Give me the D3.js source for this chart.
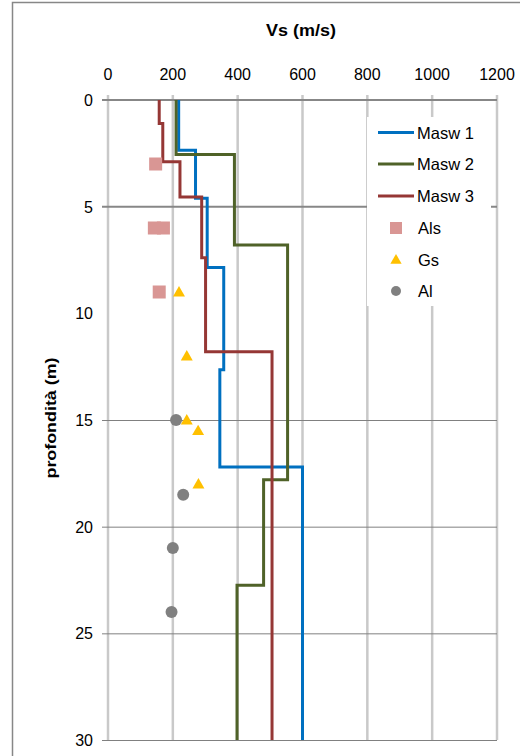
<!DOCTYPE html>
<html>
<head>
<meta charset="utf-8">
<script src="https://cdn.jsdelivr.net/npm/d3@7"></script>
<style>
  body { margin: 0; background: #fff; }
  text { font-family: "Liberation Sans", Arial, sans-serif; fill: #000; }
</style>
</head>
<body>
<script>
// layer tops (m) and Vs (m/s) for each survey
let masw1Depths = [0, 2.35, 4.6, 7.85, 12.65, 17.2, 30],
    masw1Vs = [218, 270, 306, 357, 345, 600];
let masw2Depths = [0, 2.55, 6.8, 17.8, 22.75, 30],
    masw2Vs = [210, 390, 554, 480, 398];
let masw3Depths = [0, 1.1, 2.9, 4.55, 7.4, 11.8, 30],
    masw3Vs = [158, 169, 222, 289, 301, 506];

// point measurements [Vs, depth]
let alsPoints = [[147, 3], [143, 6], [171, 6], [158, 9]];
let gsPoints = [[219, 9], [243, 12], [243, 15], [278, 15.5], [279, 18]];
let alPoints = [[210, 15], [232, 18.5], [200, 21], [196, 24]];

let xTicks = [0, 200, 400, 600, 800, 1000, 1200];
let yTicks = [0, 5, 10, 15, 20, 25, 30];
let yGridLines = [15, 20, 25, 30];
let yGridStrong = [0, 5];

let width = 520, height = 756;

let svg = d3.select('body').append('svg')
    .attr('width', width)
    .attr('height', height);

let x = d3.scaleLinear().domain([0, 1200]).range([108, 497]);
let y = d3.scaleLinear().domain([0, 30]).range([100, 740]);

// chart border
svg.append('path')
    .attr('d', 'M12.5,' + height + 'V2.5H' + width)
    .attr('fill', 'none')
    .attr('stroke', '#878787')
    .attr('stroke-width', 1.5);

// vertical grid
svg.selectAll('line.vgrid').data(xTicks).enter().append('line')
    .attr('class', 'vgrid')
    .attr('x1', d => x(d)).attr('x2', d => x(d))
    .attr('y1', 95).attr('y2', y(30))
    .attr('stroke', '#c9c9c9')
    .attr('stroke-width', 2.5);

// horizontal grid
svg.selectAll('line.hgrid').data(yGridLines).enter().append('line')
    .attr('class', 'hgrid')
    .attr('x1', 102).attr('x2', x(1200))
    .attr('y1', d => y(d) + 0.5).attr('y2', d => y(d) + 0.5)
    .attr('stroke', '#808080')
    .attr('stroke-width', 1);
svg.selectAll('line.hgrid2').data(yGridStrong).enter().append('line')
    .attr('class', 'hgrid2')
    .attr('x1', 102).attr('x2', x(1200))
    .attr('y1', d => y(d)).attr('y2', d => y(d))
    .attr('stroke', '#878787')
    .attr('stroke-width', 2);

// top axis labels
svg.selectAll('text.xtick').data(xTicks).enter().append('text')
    .attr('class', 'xtick')
    .attr('x', d => x(d))
    .attr('y', 80)
    .attr('text-anchor', 'middle')
    .style('font-size', '16px')
    .text(d => d);

// left axis labels
svg.selectAll('text.ytick').data(yTicks).enter().append('text')
    .attr('class', 'ytick')
    .attr('x', 93)
    .attr('y', d => y(d) + 6)
    .attr('text-anchor', 'end')
    .style('font-size', '16px')
    .text(d => d);

// axis titles
svg.append('text')
    .attr('x', 301)
    .attr('y', 36)
    .attr('text-anchor', 'middle')
    .style('font-size', '17px')
    .style('font-weight', 'bold')
    .attr('textLength', 70)
    .attr('lengthAdjust', 'spacingAndGlyphs')
    .text('Vs (m/s)');

svg.append('text')
    .attr('transform', 'translate(56,418) rotate(-90)')
    .attr('text-anchor', 'middle')
    .style('font-size', '15px')
    .style('font-weight', 'bold')
    .attr('textLength', 121)
    .attr('lengthAdjust', 'spacingAndGlyphs')
    .text('profondità (m)');

// step profiles
function stepPoints(depths, vs) {
    let pts = [];
    vs.forEach((v, i) => {
        pts.push([v, depths[i]]);
        pts.push([v, depths[i + 1]]);
    });
    return pts;
}

let series = [
    {name: 'Masw 1', color: '#0070c0', pts: stepPoints(masw1Depths, masw1Vs)},
    {name: 'Masw 2', color: '#4f6228', pts: stepPoints(masw2Depths, masw2Vs)},
    {name: 'Masw 3', color: '#953735', pts: stepPoints(masw3Depths, masw3Vs)}
];

let line = d3.line().x(d => x(d[0])).y(d => y(d[1]));

svg.selectAll('path.profile').data(series).enter().append('path')
    .attr('class', 'profile')
    .attr('d', d => line(d.pts))
    .attr('fill', 'none')
    .attr('stroke', d => d.color)
    .attr('stroke-width', 3);

// markers
let tri = d3.symbol().type(d3.symbolTriangle).size(62);
let triSmall = d3.symbol().type(d3.symbolTriangle).size(55);

svg.selectAll('rect.als').data(alsPoints).enter().append('rect')
    .attr('class', 'als')
    .attr('x', d => x(d[0]) - 6.5)
    .attr('y', d => y(d[1]) - 6.5)
    .attr('width', 13).attr('height', 13)
    .attr('fill', '#d99694');

svg.selectAll('path.gs').data(gsPoints).enter().append('path')
    .attr('class', 'gs')
    .attr('d', tri)
    .attr('transform', d => 'translate(' + x(d[0]) + ',' + (y(d[1]) + 1) + ')')
    .attr('fill', '#ffc000');

svg.selectAll('circle.al').data(alPoints).enter().append('circle')
    .attr('class', 'al')
    .attr('cx', d => x(d[0]))
    .attr('cy', d => y(d[1]))
    .attr('r', 6)
    .attr('fill', '#808080');

// legend
let legend = svg.append('g');
legend.append('rect')
    .attr('x', 367).attr('y', 117)
    .attr('width', 124).attr('height', 189)
    .attr('fill', '#fff');

let legendRows = [132.5, 164, 196, 228, 259.5, 291];

series.forEach((s, i) => {
    legend.append('line')
        .attr('x1', 378).attr('x2', 414)
        .attr('y1', legendRows[i]).attr('y2', legendRows[i])
        .attr('stroke', s.color)
        .attr('stroke-width', 3);
    legend.append('text')
        .attr('x', 417).attr('y', legendRows[i] + 6)
        .style('font-size', '16.5px')
        .text(s.name);
});

legend.append('rect')
    .attr('x', 390).attr('y', legendRows[3] - 6)
    .attr('width', 12).attr('height', 12)
    .attr('fill', '#d99694');
legend.append('text')
    .attr('x', 418).attr('y', legendRows[3] + 6)
    .style('font-size', '16.5px')
    .text('Als');

legend.append('path')
    .attr('d', triSmall)
    .attr('transform', 'translate(396,' + (legendRows[4] + 1) + ')')
    .attr('fill', '#ffc000');
legend.append('text')
    .attr('x', 418).attr('y', legendRows[4] + 6)
    .style('font-size', '16.5px')
    .text('Gs');

legend.append('circle')
    .attr('cx', 396).attr('cy', legendRows[5])
    .attr('r', 5)
    .attr('fill', '#808080');
legend.append('text')
    .attr('x', 418).attr('y', legendRows[5] + 6)
    .style('font-size', '16.5px')
    .text('Al');
</script>
</body>
</html>
